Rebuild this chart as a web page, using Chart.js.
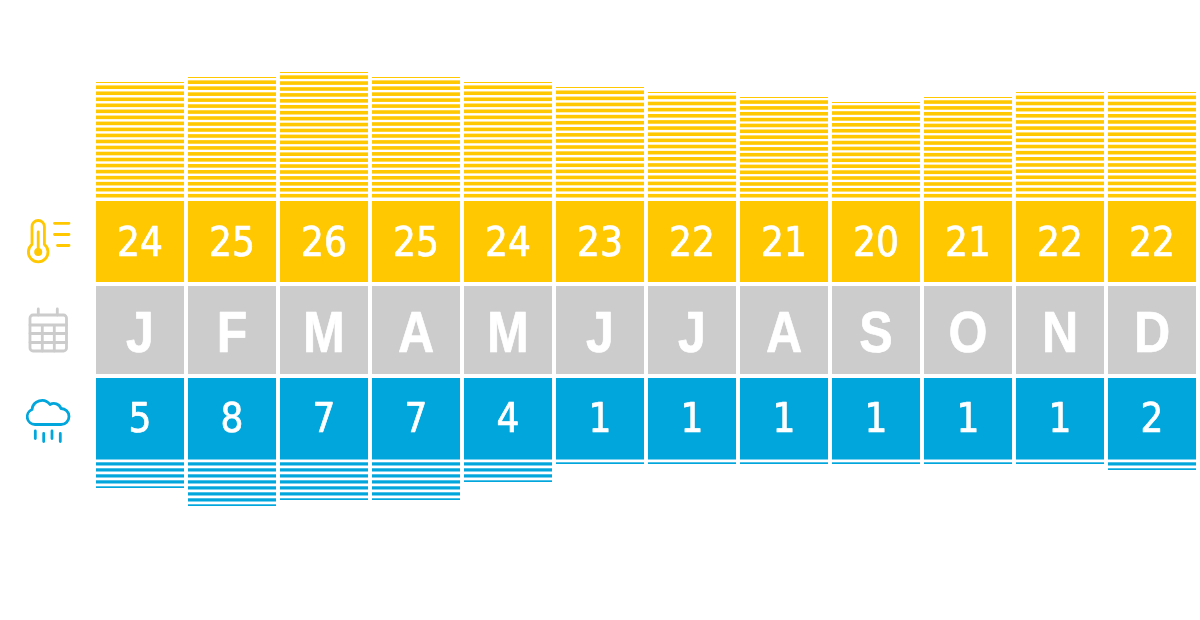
<!DOCTYPE html>
<html>
<head>
    <title>Climate by month</title>
    <script src="https://cdn.jsdelivr.net/npm/chart.js"></script>
    <style>
        html, body { margin: 0; background: #fff; }
        #wrap { width: 1200px; height: 620px; }
    </style>
</head>
<body>
    <div id="wrap"><canvas id="myChart" width="1200" height="620"></canvas></div>
    <script>
        const months = ['J', 'F', 'M', 'A', 'M', 'J', 'J', 'A', 'S', 'O', 'N', 'D'];
        const temperature = [24, 25, 26, 25, 24, 23, 22, 21, 20, 21, 22, 22];
        const rainDays = [5, 8, 7, 7, 4, 1, 1, 1, 1, 1, 1, 2];

        const YELLOW = '#ffc800';
        const GREY = '#cccccc';
        const BLUE = '#00a6dc';

        // a full height strip of stripes, fractional rows soften by themselves.
        // `anchor` is where one stripe ends, `period` the repeat in px
        function stripes(ctx, color, anchor, period, thick) {
            const c = document.createElement('canvas');
            c.width = 4;
            c.height = 620;
            const g = c.getContext('2d');
            g.fillStyle = '#fff';
            g.fillRect(0, 0, 4, 620);
            g.fillStyle = color;
            for (let y = anchor % period; y < 620 + period; y += period) {
                g.fillRect(0, y - thick, 4, thick);
            }
            return ctx.createPattern(c, 'repeat');
        }

        // squeeze the repeat a little per bar, first line sits on the bar top, last one just above the tile
        function tempStripes(c) {
            const first = c.chart.scales.yTemp.getPixelForValue(c.raw) + 1;
            const n = Math.round((197.5 - first) / 6);
            return stripes(c.chart.ctx, YELLOW, first, (197.5 - first) / n, 3.6);
        }

        const tiles = (top, bottom) => months.map(() => [top, bottom]);

        const labelsAndIcons = {
            id: 'labelsAndIcons',
            afterDatasetsDraw(chart) {
                const ctx = chart.ctx;
                ctx.save();
                ctx.fillStyle = '#fff';
                ctx.strokeStyle = '#fff';
                ctx.lineJoin = 'round';
                ctx.lineWidth = 0.7;
                ctx.textAlign = 'center';
                ctx.textBaseline = 'alphabetic';

                const xs = chart.getDatasetMeta(0).data.map(b => b.x);
                const put = (t, x, y) => { ctx.fillText(t, x, y); ctx.strokeText(t, x, y); };
                ctx.font = '40px "DejaVu Sans Condensed"';
                xs.forEach((x, i) => put(temperature[i], x, 256));
                xs.forEach((x, i) => put(rainDays[i], x, 432));

                ctx.font = 'bold 57px "Liberation Sans"';
                xs.forEach((x, i) => {
                    ctx.save();
                    ctx.translate(x, 351.5);
                    ctx.scale(0.88, 1);
                    put(months[i], 0, 0);
                    ctx.restore();
                });
                ctx.restore();

                ctx.save();
                ctx.lineWidth = 2.8;
                ctx.lineCap = 'round';
                ctx.lineJoin = 'round';

                // thermometer
                ctx.strokeStyle = YELLOW;
                ctx.fillStyle = YELLOW;
                ctx.stroke(new Path2D('M32 244.4V226.7A6.2 6.2 0 0 1 44.4 226.7V244.4A9.8 9.8 0 1 1 32 244.4Z'));
                ctx.stroke(new Path2D('M38.2 232V250M54.5 223.3H69M54.5 234.5H69M57.5 245.5H69'));
                ctx.beginPath();
                ctx.arc(38.2, 252, 4, 0, Math.PI * 2);
                ctx.fill();

                // calendar
                ctx.strokeStyle = GREY;
                ctx.stroke(new Path2D('M33 315H63.5A3 3 0 0 1 66.5 318V348A3 3 0 0 1 63.5 351H33A3 3 0 0 1 30 348V318A3 3 0 0 1 33 315Z'));
                ctx.stroke(new Path2D('M38.3 309V315M57.3 309V315M30 325H66.5M30 333.5H66.5M30 342.5H66.5M42.3 325V351M54.3 325V351'));

                // rain cloud
                ctx.strokeStyle = BLUE;
                ctx.stroke(new Path2D('M35 424.5A7.8 7.8 0 0 1 32 409.5A10 10 0 0 1 50 404.5A7.5 7.5 0 0 1 61 408.5A8 8 0 0 1 61 424.5Z'));
                ctx.stroke(new Path2D('M35.3 431V438.5M43.7 433.5V441.5M52 431V438.5M60.3 433.5V441.5'));
                ctx.restore();
            }
        };

        const ctx = document.getElementById('myChart').getContext('2d');
        const barStyle = { grouped: false, barPercentage: 88 / 92, categoryPercentage: 1, borderWidth: 0 };

        const myChart = new Chart(ctx, {
            type: 'bar',
            data: {
                labels: months,
                datasets: [
                    {
                        ...barStyle,
                        label: 'Temperature',
                        data: temperature,
                        yAxisID: 'yTemp',
                        base: 0.6, // stop the stripes just above the tile
                        backgroundColor: tempStripes
                    },
                    {
                        ...barStyle,
                        label: 'Rain days',
                        data: rainDays,
                        yAxisID: 'yRain',
                        backgroundColor: c => stripes(c.chart.ctx, BLUE, 465.5, 6, 3.2)
                    },
                    { ...barStyle, label: 'Temperature tile', data: tiles(201, 282), yAxisID: 'yRow', backgroundColor: YELLOW },
                    { ...barStyle, label: 'Month tile', data: tiles(286, 374), yAxisID: 'yRow', backgroundColor: GREY },
                    { ...barStyle, label: 'Rain tile', data: tiles(378, 459), yAxisID: 'yRow', backgroundColor: BLUE }
                ]
            },
            options: {
                responsive: false,
                animation: false,
                layout: { padding: { left: 94, right: 2, top: 0, bottom: 0 } },
                plugins: { legend: { display: false }, tooltip: { enabled: false } },
                scales: {
                    x: { display: false, offset: true },
                    // 5px per degree, zero at y=202
                    yTemp: { display: false, min: (202 - 620) / 5, max: 202 / 5 },
                    // 6px per rain day going down, zero at y=458
                    yRain: { display: false, reverse: true, min: -458 / 6, max: (620 - 458) / 6 },
                    // plain pixel rows for the tiles
                    yRow: { display: false, reverse: true, min: 0, max: 620 }
                }
            },
            plugins: [labelsAndIcons]
        });
    </script>
</body>
</html>
